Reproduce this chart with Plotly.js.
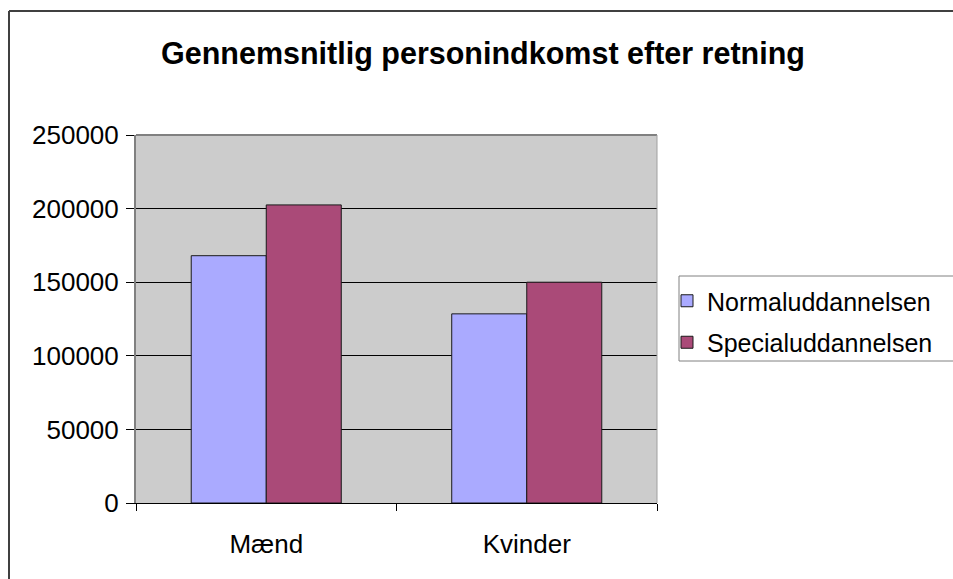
<!DOCTYPE html>
<html>
<head>
<meta charset="utf-8">
<script src="https://cdn.plot.ly/plotly-3.0.1.min.js"></script>
<style>
  body { margin: 0; background: #fff; overflow: hidden; }
  #chart { width: 953px; height: 579px; }
</style>
</head>
<body>
<div id="chart"></div>
<script>
// Gennemsnitlig personindkomst efter retning
var categories = ["Mænd", "Kvinder"];
var normal = [168000, 128500];
var special = [202500, 150000];
var yTicks = [0, 50000, 100000, 150000, 200000, 250000];

var font = "Liberation Sans, Arial, sans-serif";

var trace1 = {
  x: categories,
  y: normal,
  type: "bar",
  name: "Normaluddannelsen",
  legendgroup: "a",
  marker: { color: "#AAAAFF", line: { color: "#1a1a1a", width: 1 } },
  hoverinfo: "none"
};
var trace2 = {
  x: categories,
  y: special,
  type: "bar",
  name: "Specialuddannelsen",
  legendgroup: "b",
  marker: { color: "#AA4A78", line: { color: "#1a1a1a", width: 1 } },
  hoverinfo: "none"
};

function px(x) { return (x - 136) / 521; }
function py(y) { return (503 - y) / 368; }

var layout = {
  width: 953,
  height: 579,
  margin: { l: 136, r: 296, t: 135, b: 76, autoexpand: false },
  paper_bgcolor: "#ffffff",
  plot_bgcolor: "#CCCCCC",
  font: { family: font, color: "#000", size: 26 },
  title: {
    text: "<b>Gennemsnitlig personindkomst efter retning</b>",
    font: { family: font, size: 30.5, color: "#000" },
    x: 483 / 953, xref: "container", xanchor: "center",
    y: 1 - 53 / 579, yref: "container", yanchor: "middle"
  },
  barmode: "group",
  bargap: 0.424,
  bargroupgap: 0,
  xaxis: {
    type: "category",
    automargin: false,
    showline: true, linecolor: "#000", linewidth: 1,
    ticks: "outside", tickson: "boundaries", ticklen: 7, tickcolor: "#000",
    tickfont: { family: font, size: 26 },
    ticklabelstandoff: 18,
    showgrid: false, zeroline: false,
    fixedrange: true
  },
  yaxis: {
    automargin: false,
    range: [0, 250000],
    tickvals: yTicks,
    ticktext: yTicks.map(String),
    showline: true, linecolor: "#808080", linewidth: 2,
    ticks: "outside", ticklen: 8, tickcolor: "#000",
    tickfont: { family: font, size: 26 },
    ticklabelstandoff: 2,
    showgrid: true, gridcolor: "#000", gridwidth: 1,
    zeroline: false,
    fixedrange: true
  },
  showlegend: true,
  legend: {
    x: px(667), xanchor: "left",
    y: py(278), yanchor: "top",
    bgcolor: "rgba(0,0,0,0)",
    borderwidth: 0,
    font: { family: font, size: 25 },
    traceorder: "grouped",
    tracegroupgap: 6,
    itemwidth: 30
  },
  shapes: [
    // plot area frame (top/right grey)
    { type: "line", xref: "paper", yref: "paper", x0: 0, x1: 1, y0: 1, y1: 1,
      line: { color: "#808080", width: 2 } },
    { type: "line", xref: "paper", yref: "paper", x0: 1, x1: 1, y0: 0, y1: 1,
      line: { color: "#A0A0A0", width: 1 } },
    // legend box, running off the right edge
    { type: "rect", xref: "paper", yref: "paper",
      x0: px(679), x1: px(1000), y0: py(361), y1: py(276),
      line: { color: "#808080", width: 1 }, fillcolor: "#ffffff", layer: "below" },
    // outer chart border (left and top edges, the rest runs off the picture)
    { type: "line", xref: "paper", yref: "paper",
      x0: px(9), x1: px(9), y0: py(600), y1: py(11),
      line: { color: "#404040", width: 2 } },
    { type: "line", xref: "paper", yref: "paper",
      x0: px(9), x1: px(1000), y0: py(11), y1: py(11),
      line: { color: "#404040", width: 2 } }
  ]
};

Plotly.newPlot("chart", [trace1, trace2], layout, { displayModeBar: false, staticPlot: true });
</script>
</body>
</html>
